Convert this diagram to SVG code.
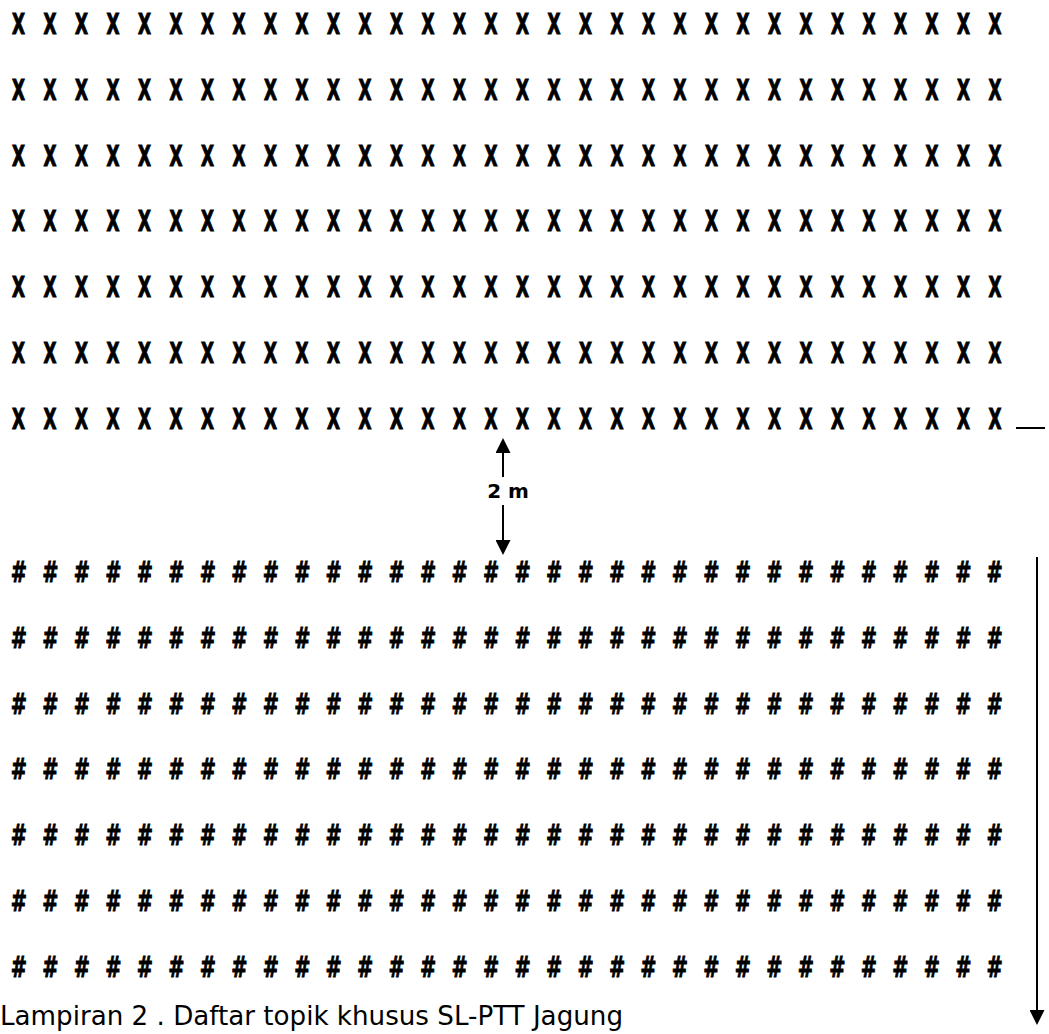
<svg xmlns="http://www.w3.org/2000/svg" width="1049" height="1034" viewBox="0 0 1049 1034">
<style>
.x{font-family:"DejaVu Sans",sans-serif;font-weight:bold;font-size:29px;fill:#000;stroke:#000;stroke-width:1.2px;letter-spacing:10.94px}
.h{font-family:"DejaVu Sans",sans-serif;font-weight:bold;font-size:29px;fill:#000;stroke:#000;stroke-width:0.9px;letter-spacing:6.3px}
.lbl{font-family:"DejaVu Sans",sans-serif;font-weight:bold;font-size:20px;fill:#000}
.cap{font-family:"DejaVu Sans Condensed","DejaVu Sans",sans-serif;font-size:27px;fill:#000}
.ln{stroke:#000;stroke-width:2;fill:none}
</style>
<defs>
<marker id="ah" viewBox="0 0 15 15" refX="0" refY="7.5" markerWidth="15" markerHeight="15" markerUnits="userSpaceOnUse" orient="auto">
<path d="M0,0 L15,7.5 L0,15 Z" fill="#000"/>
</marker>
</defs>
<rect width="1049" height="1034" fill="#fff"/>
<g id="rows-x" transform="scale(0.58,1)" xml:space="preserve">
<text class="x" x="20.67" y="34">X X X X X X X X X X X X X X X X X X X X X X X X X X X X X X X X</text>
<text class="x" x="20.67" y="99.8">X X X X X X X X X X X X X X X X X X X X X X X X X X X X X X X X</text>
<text class="x" x="20.67" y="165.6">X X X X X X X X X X X X X X X X X X X X X X X X X X X X X X X X</text>
<text class="x" x="20.67" y="231.4">X X X X X X X X X X X X X X X X X X X X X X X X X X X X X X X X</text>
<text class="x" x="20.67" y="297.2">X X X X X X X X X X X X X X X X X X X X X X X X X X X X X X X X</text>
<text class="x" x="20.67" y="363">X X X X X X X X X X X X X X X X X X X X X X X X X X X X X X X X</text>
<text class="x" x="20.67" y="428.8">X X X X X X X X X X X X X X X X X X X X X X X X X X X X X X X X</text>
</g>
<g id="rows-hash" transform="scale(0.67,1)" xml:space="preserve">
<text class="h" x="16.2" y="582"># # # # # # # # # # # # # # # # # # # # # # # # # # # # # # # #</text>
<text class="h" x="16.2" y="647.8"># # # # # # # # # # # # # # # # # # # # # # # # # # # # # # # #</text>
<text class="h" x="16.2" y="713.6"># # # # # # # # # # # # # # # # # # # # # # # # # # # # # # # #</text>
<text class="h" x="16.2" y="779.4"># # # # # # # # # # # # # # # # # # # # # # # # # # # # # # # #</text>
<text class="h" x="16.2" y="845.2"># # # # # # # # # # # # # # # # # # # # # # # # # # # # # # # #</text>
<text class="h" x="16.2" y="911"># # # # # # # # # # # # # # # # # # # # # # # # # # # # # # # #</text>
<text class="h" x="16.2" y="976.8"># # # # # # # # # # # # # # # # # # # # # # # # # # # # # # # #</text>
</g>
<g id="connectors">
<line class="ln" x1="503" y1="477" x2="503" y2="453" marker-end="url(#ah)"/>
<line class="ln" x1="503" y1="505" x2="503" y2="540" marker-end="url(#ah)"/>
<line class="ln" x1="1016" y1="428" x2="1045" y2="428"/>
<line class="ln" x1="1037" y1="557" x2="1037" y2="1010" marker-end="url(#ah)"/>
</g>
<g id="label-2m">
<text class="lbl" x="508" y="498" text-anchor="middle">2 m</text>
</g>
<g id="caption">
<text class="cap" x="0" y="1025" textLength="623" lengthAdjust="spacingAndGlyphs">Lampiran 2 . Daftar topik khusus SL-PTT Jagung</text>
</g>
</svg>
